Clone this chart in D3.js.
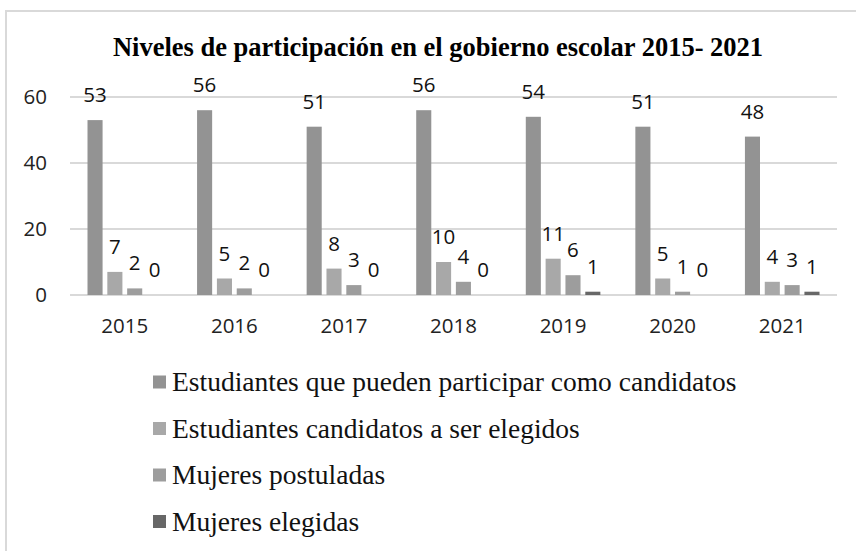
<!DOCTYPE html>
<html>
<head>
<meta charset="utf-8">
<script src="https://cdn.jsdelivr.net/npm/d3@7"></script>
<style>
  body { margin: 0; background: #fff; }
  svg { display: block; }
</style>
</head>
<body>
<div id="chart"></div>
<script>
"use strict"

const years = ["2015", "2016", "2017", "2018", "2019", "2020", "2021"];
const seriesNames = [
    "Estudiantes que pueden participar como candidatos",
    "Estudiantes candidatos a ser elegidos",
    "Mujeres postuladas",
    "Mujeres elegidas"
];
const puedenParticipar = [53, 56, 51, 56, 54, 51, 48];
const candidatos = [7, 5, 8, 10, 11, 5, 4];
const mujeresPostuladas = [2, 2, 3, 4, 6, 1, 3];
const mujeresElegidas = [0, 0, 0, 0, 1, 0, 1];
const yTicks = [0, 20, 40, 60];
const colors = ["#939393", "#a8a8a8", "#9d9d9d", "#676767"];

const allSeries = [puedenParticipar, candidatos, mujeresPostuladas, mujeresElegidas];

const W = 856, H = 551;
const svg = d3.select("#chart").append("svg")
    .attr("width", W)
    .attr("height", H);

// chart border (only top and left are visible)
svg.append("line").attr("x1", 6).attr("x2", W).attr("y1", 11).attr("y2", 11)
    .attr("stroke", "#d9d9d9").attr("stroke-width", 2);
svg.append("line").attr("x1", 6).attr("x2", 6).attr("y1", 10).attr("y2", H)
    .attr("stroke", "#d9d9d9").attr("stroke-width", 2);

svg.append("text")
    .attr("x", 438).attr("y", 56)
    .attr("text-anchor", "middle")
    .attr("font-family", "Liberation Serif, Times New Roman, serif")
    .attr("font-weight", "bold")
    .attr("font-size", 26.5)
    .text("Niveles de participación en el gobierno escolar 2015- 2021");

const x0 = d3.scaleBand().domain(years).range([70, 837]);
const x1 = d3.scaleBand().domain(d3.range(4)).range([17.5, x0.bandwidth() - 17.5]).paddingInner(0.24);
const y = d3.scaleLinear().domain([0, 60]).range([295, 97]);

// gridlines
svg.append("g").selectAll("line").data(yTicks).join("line")
    .attr("x1", 70).attr("x2", 837)
    .attr("y1", d => y(d)).attr("y2", d => y(d))
    .attr("stroke", "#d9d9d9").attr("stroke-width", 2);

const sans = "Open Sans, Carlito, Calibri, sans-serif";

svg.append("g").selectAll("text").data(yTicks).join("text")
    .attr("x", 47).attr("y", d => y(d))
    .attr("dy", "0.35em")
    .attr("text-anchor", "end")
    .attr("font-family", sans).attr("font-size", 20.5).attr("fill", "#222")
    .text(d => d);

svg.append("g").selectAll("text").data(years).join("text")
    .attr("x", d => x0(d) + x0.bandwidth() / 2).attr("y", 333)
    .attr("text-anchor", "middle")
    .attr("font-family", sans).attr("font-size", 20.5).attr("fill", "#222")
    .text(d => d);

const groups = svg.append("g").selectAll("g").data(years).join("g")
    .attr("transform", d => `translate(${x0(d)},0)`);

groups.each(function (yr, i) {
    const g = d3.select(this);
    allSeries.forEach((vals, s) => {
        const v = vals[i];
        g.append("rect")
            .attr("x", x1(s)).attr("width", x1.bandwidth())
            .attr("y", y(v)).attr("height", y(0) - y(v))
            .attr("fill", colors[s]);
        g.append("text")
            .attr("x", x1(s) + x1.bandwidth() / 2)
            .attr("y", y(v) - 18)
            .attr("text-anchor", "middle")
            .attr("font-family", sans).attr("font-size", 20.5).attr("fill", "#111")
            .text(v);
    });
});

// legend
const legend = svg.append("g").selectAll("g").data(seriesNames).join("g")
    .attr("transform", (d, i) => `translate(153,${382 + i * 46.5})`);
legend.append("rect")
    .attr("x", 0).attr("y", -6.5).attr("width", 13).attr("height", 13)
    .attr("fill", (d, i) => colors[i]);
legend.append("text")
    .attr("x", 19).attr("y", 9)
    .attr("font-family", "Liberation Serif, Times New Roman, serif")
    .attr("font-size", 27.5).attr("fill", "#111")
    .text(d => d);
</script>
</body>
</html>
